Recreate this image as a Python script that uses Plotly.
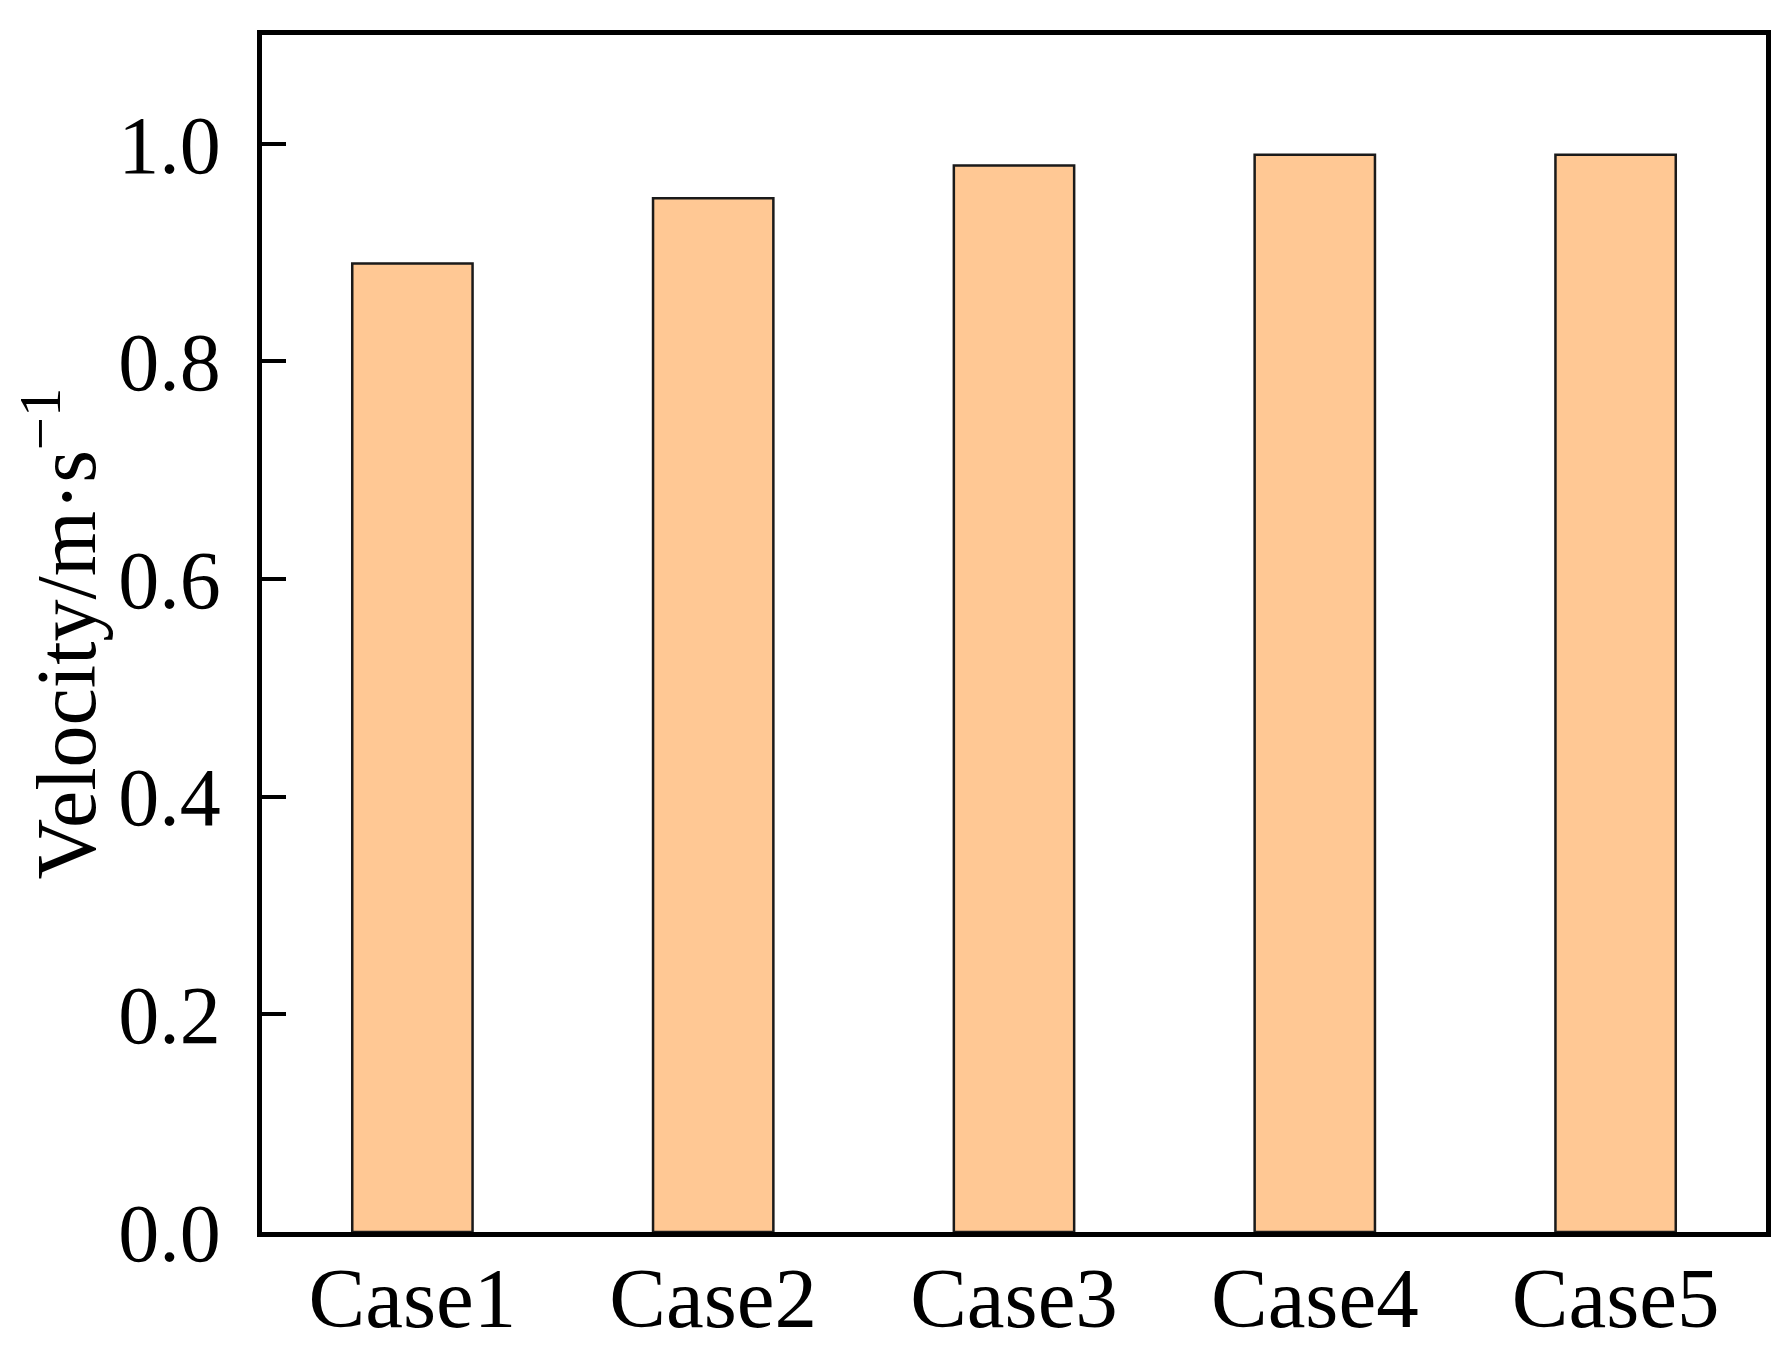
import plotly.graph_objects as go

categories = ["Case1", "Case2", "Case3", "Case4", "Case5"]
velocity = [0.89, 0.95, 0.98, 0.99, 0.99]
y_ticks = [0.0, 0.2, 0.4, 0.6, 0.8, 1.0]
y_tick_labels = ["0.0", "0.2", "0.4", "0.6", "0.8", "1.0"]

FONT = "Liberation Serif"

fig = go.Figure(
    go.Bar(
        x=categories,
        y=velocity,
        width=0.4,
        marker=dict(color="#FFC894", line=dict(color="#1a1a1a", width=2.5)),
    )
)

fig.update_layout(
    width=1780,
    height=1349,
    margin=dict(l=254, r=22, t=27, b=111),
    paper_bgcolor="white",
    plot_bgcolor="white",
    showlegend=False,
    font=dict(family=FONT, size=80, color="black"),
)

fig.update_xaxes(
    range=[-0.5, 4.5],
    showline=True,
    linecolor="black",
    linewidth=4.5,
    mirror=True,
    ticks="",
    showgrid=False,
    tickfont=dict(family=FONT, size=85),
    ticklabelstandoff=-12,
)

fig.update_yaxes(
    range=[0, 1.1],
    tickvals=y_ticks,
    ticktext=y_tick_labels,
    showline=True,
    linecolor="black",
    linewidth=4.5,
    mirror=True,
    ticks="inside",
    ticklen=24,
    tickwidth=4,
    tickcolor="black",
    showgrid=False,
    zeroline=False,
    tickfont=dict(family=FONT, size=82),
    ticklabelstandoff=20,
    title=dict(text="Velocity/m·s<sup>−1</sup>", font=dict(family=FONT, size=84), standoff=22),
)

fig.write_html("out.html")
